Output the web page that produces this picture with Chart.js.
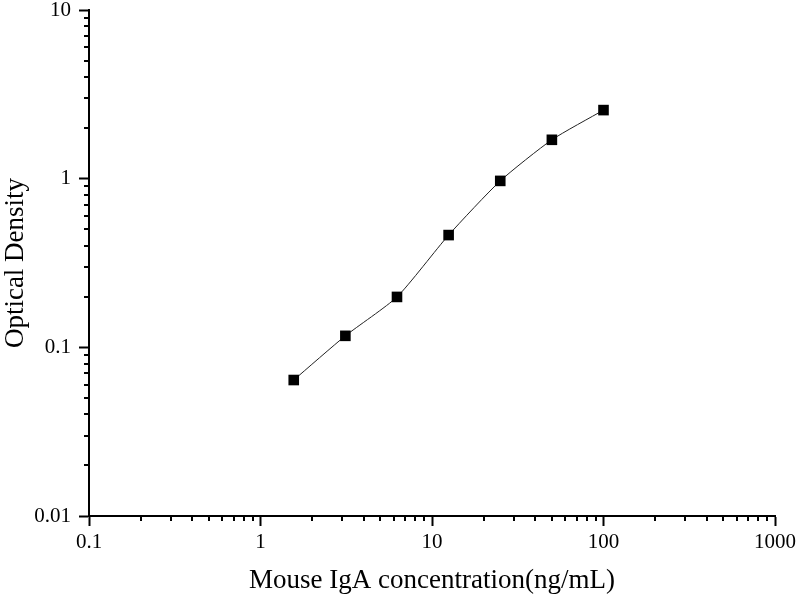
<!DOCTYPE html>
<html>
<head>
<meta charset="utf-8">
<script src="https://cdn.jsdelivr.net/npm/chart.js@4.4.0/dist/chart.umd.min.js"></script>
<style>
  html, body { margin: 0; padding: 0; background: #fff; }
  #wrap { width: 800px; height: 600px; }
</style>
</head>
<body>
<div id="wrap"><canvas id="chart"></canvas></div>
<script>
// standard curve: concentration (ng/mL) vs OD
var concentrations = [1.5625, 3.125, 6.25, 12.5, 25, 50, 100];
var odValues = [0.064, 0.117, 0.199, 0.463, 0.97, 1.70, 2.55];
var xTickLabels = [0.1, 1, 10, 100, 1000];
var yTickLabels = [0.01, 0.1, 1, 10];

var serif = "'Liberation Serif', 'Times New Roman', serif";

// keep only the power-of-ten ticks for labels and long tick marks
var keepMajor = function (values) {
    return function (scale) {
        scale.ticks = values.map(function (v) { return { value: v }; });
    };
};

// short minor ticks between decades, drawn at scale pixels
var minorTicks = {
    id: 'minorTicks',
    afterDraw: function (chart) {
        var ctx = chart.ctx;
        var x = chart.scales.x, y = chart.scales.y;
        ctx.save();
        ctx.strokeStyle = '#000';
        ctx.lineWidth = 2;
        ctx.beginPath();
        for (var d = 0.1; d < 1000; d *= 10) {
            for (var m = 2; m <= 9; m++) {
                var px = Math.round(x.getPixelForValue(d * m));
                ctx.moveTo(px, x.top);
                ctx.lineTo(px, x.top + 5);
            }
        }
        for (var e = 0.01; e < 10; e *= 10) {
            for (var n = 2; n <= 9; n++) {
                var py = Math.round(y.getPixelForValue(e * n));
                ctx.moveTo(y.right, py);
                ctx.lineTo(y.right - 5, py);
            }
        }
        ctx.stroke();
        ctx.restore();
    }
};

var points = concentrations.map(function (c, i) { return { x: c, y: odValues[i] }; });

new Chart(document.getElementById('chart'), {
    type: 'line',
    data: {
        datasets: [{
            data: points,
            borderColor: '#222',
            borderWidth: 1,
            backgroundColor: '#000',
            pointStyle: 'rect',
            pointRadius: 7.5,
            pointBorderWidth: 0,
            pointBackgroundColor: '#000',
            tension: 0.2,
            fill: false
        }]
    },
    plugins: [minorTicks],
    options: {
        responsive: true,
        maintainAspectRatio: false,
        animation: false,
        layout: { padding: { left: 0, right: 25, top: 10, bottom: 0 } },
        plugins: {
            legend: { display: false },
            tooltip: { enabled: false }
        },
        scales: {
            x: {
                type: 'logarithmic',
                min: 0.1,
                max: 1000,
                afterBuildTicks: keepMajor(xTickLabels),
                afterFit: function (scale) {
                    scale.height = 84;
                    scale.paddingLeft = 0;
                    scale.paddingRight = 0;
                },
                border: { color: '#000', width: 2 },
                grid: { drawOnChartArea: false, tickLength: 10, tickColor: '#000', tickWidth: 2 },
                ticks: {
                    color: '#000',
                    padding: 4,
                    maxRotation: 0,
                    autoSkip: false,
                    font: { family: serif, size: 21 },
                    callback: function (v) { return String(v); }
                },
                title: {
                    display: true,
                    text: 'Mouse IgA concentration(ng/mL)',
                    color: '#000',
                    font: { family: serif, size: 27 },
                    padding: { top: 0, bottom: 3 }
                }
            },
            y: {
                type: 'logarithmic',
                min: 0.01,
                max: 10,
                afterBuildTicks: keepMajor(yTickLabels),
                afterFit: function (scale) {
                    scale.width = 89;
                    scale.paddingTop = 0;
                    scale.paddingBottom = 0;
                },
                border: { color: '#000', width: 2 },
                grid: { drawOnChartArea: false, tickLength: 10, tickColor: '#000', tickWidth: 2 },
                ticks: {
                    color: '#000',
                    padding: 8,
                    autoSkip: false,
                    font: { family: serif, size: 21 },
                    callback: function (v) { return String(v); }
                },
                title: {
                    display: true,
                    text: 'Optical Density',
                    color: '#000',
                    font: { family: serif, size: 27 },
                    padding: { top: 0, bottom: 0 }
                }
            }
        }
    }
});
</script>
</body>
</html>
